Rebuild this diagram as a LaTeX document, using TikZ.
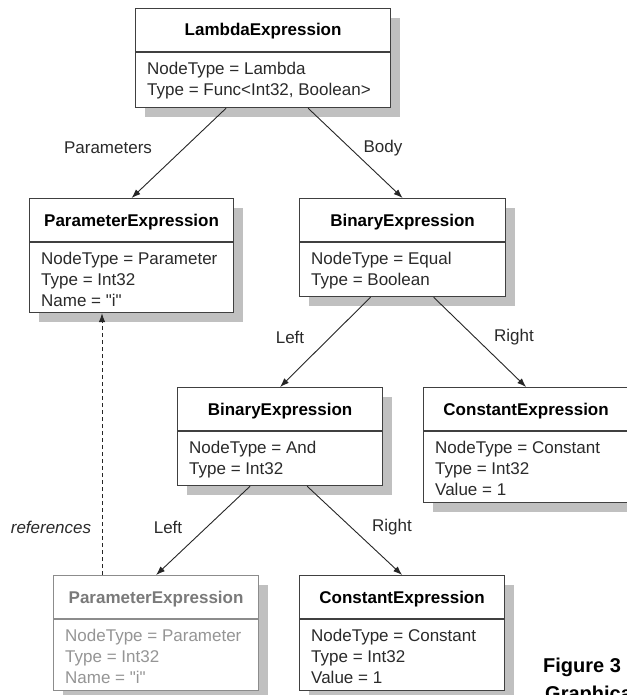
\documentclass[tikz,border=0pt]{standalone}
\usepackage{fontspec}
\setmainfont{Liberation Sans}[Ligatures=TeXOff]
\usetikzlibrary{calc,shadows,arrows.meta}
\definecolor{edgecol}{HTML}{404040}
\definecolor{txtcol}{HTML}{2A2A2A}
\definecolor{shadcol}{HTML}{C0C0C0}
\definecolor{ghostline}{HTML}{8C8C8C}
\definecolor{ghosttitle}{HTML}{7A7A7A}
\definecolor{ghosttext}{HTML}{959595}
\tikzset{
  norm box/.style={draw=edgecol,line width=1.2pt,fill=white,inner sep=0pt,
    drop shadow={shadow xshift=9pt,shadow yshift=-9pt,fill=shadcol,opacity=1}},
  norm line/.style={draw=edgecol,line width=1.2pt},
  norm title/.style={text=black,inner sep=0pt,font=\fontsize{17}{21}\selectfont\bfseries},
  norm body/.style={text=txtcol,inner sep=0pt,align=left,font=\fontsize{17}{21}\selectfont},
  ghost box/.style={draw=ghostline,line width=1.2pt,fill=white,inner sep=0pt,
    drop shadow={shadow xshift=9pt,shadow yshift=-9pt,fill=shadcol,opacity=1}},
  ghost line/.style={draw=ghostline,line width=1.2pt},
  ghost title/.style={text=ghosttitle,inner sep=0pt,font=\fontsize{17}{21}\selectfont\bfseries},
  ghost body/.style={text=ghosttext,inner sep=0pt,align=left,font=\fontsize{17}{21}\selectfont},
  conn/.style={draw=black!85,line width=0.9pt,-{Latex[length=9pt,width=6.5pt]}},
  refline/.style={draw=black!85,line width=0.9pt,dash pattern=on 4pt off 3pt,-{Latex[length=9pt,width=6.5pt]}},
  lbl/.style={text=txtcol,inner sep=0pt,font=\fontsize{17}{21}\selectfont},
  capfont/.style={text=black,inner sep=0pt,font=\fontsize{20}{22}\selectfont\bfseries},
}
% #1 scheme, #2 name, #3 x, #4 y, #5 width, #6 height, #7 title, #8 body
\newcommand\classbox[8][norm]{%
  \node[#1 box,minimum width=#5pt,minimum height=#6pt,anchor=north west] (#2) at (#3,#4) {};
  \draw[#1 line] ($(#2.north west)+(0,44)$) -- ($(#2.north east)+(0,44)$);
  \node[#1 title,anchor=base] (#2-t) at ($(#2.north)+(0,28)$) {#7};
  \node[#1 body,anchor=north west] (#2-b) at ($(#2.north west)+(12,51)$) {\rule{0pt}{15pt}#8};
}
\begin{document}
\begin{tikzpicture}[x=1pt,y=-1pt]
\useasboundingbox (0,0) rectangle (626,695);
\fill[white] (0,0) rectangle (626,695);

\classbox{lam}{135}{8}{255}{99}{LambdaExpression}{NodeType = Lambda\\Type = Func<Int32, Boolean>}
\classbox{pt}{29}{198}{204}{114}{ParameterExpression}{NodeType = Parameter\\Type = Int32\\Name = "i"}
\classbox{bt}{299}{198}{206}{98}{BinaryExpression}{NodeType = Equal\\Type = Boolean}
\classbox{bm}{177}{387}{205}{98}{BinaryExpression}{NodeType = And\\Type = Int32}
\classbox{cr}{423}{387}{205}{115}{ConstantExpression}{NodeType = Constant\\Type = Int32\\Value = 1}
\classbox[ghost]{pb}{53}{575}{205}{115}{ParameterExpression}{NodeType = Parameter\\Type = Int32\\Name = "i"}
\classbox{cb}{299}{575}{205}{115}{ConstantExpression}{NodeType = Constant\\Type = Int32\\Value = 1}

\draw[conn] ($(lam.south)+(-37,0)$) -- (pt.north);
\draw[conn] ($(lam.south)+(45,0)$) -- (bt.north);
\draw[conn] ($(bt.south)+(-32,0)$) -- (bm.north);
\draw[conn] ($(bt.south)+(31,0)$) -- (cr.north);
\draw[conn] ($(bm.south)+(-30,0)$) -- (pb.north);
\draw[conn] ($(bm.south)+(27,0)$) -- (cb.north);
\coordinate (refx) at (102,0);
\draw[refline] (pb.north -| refx) -- (pt.south -| refx);

\node[lbl] (l-par) at (108,148) {Parameters};
\node[lbl] (l-body) at (383,148) {Body};
\node[lbl] (l-left1) at (290,337) {Left};
\node[lbl] (l-right1) at (514,337) {Right};
\node[lbl,font=\fontsize{17}{21}\selectfont\itshape] (l-ref) at (51,527) {references};
\node[lbl] (l-left2) at (168,527) {Left};
\node[lbl] (l-right2) at (392,527) {Right};

\node[capfont,anchor=base west] (cap1) at (543,672) {Figure 3};
\node[capfont,anchor=base west] (cap2) at (545,700) {Graphica};
\end{tikzpicture}
\end{document}
